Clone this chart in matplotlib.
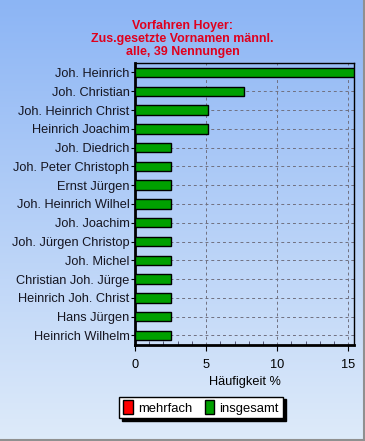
import numpy as np
import matplotlib
matplotlib.use('Agg')
import matplotlib.pyplot as plt
from matplotlib.patches import Patch

plt.rcParams['font.family'] = ['Liberation Sans', 'DejaVu Sans']

# data
names = ['Joh. Heinrich', 'Joh. Christian', 'Joh. Heinrich Christ', 'Heinrich Joachim',
         'Joh. Diedrich', 'Joh. Peter Christoph', 'Ernst Jürgen', 'Joh. Heinrich Wilhel',
         'Joh. Joachim', 'Joh. Jürgen Christop', 'Joh. Michel', 'Christian Joh. Jürge',
         'Heinrich Joh. Christ', 'Hans Jürgen', 'Heinrich Wilhelm']
insgesamt = [15.38, 7.69, 5.13, 5.13, 2.56, 2.56, 2.56, 2.56,
             2.56, 2.56, 2.56, 2.56, 2.56, 2.56, 2.56]
xticks = [0, 5, 10, 15]
title = 'Vorfahren Hoyer:\nZus.gesetzte Vornamen männl.\nalle, 39 Nennungen'

fig = plt.figure(figsize=(3.65, 4.41), dpi=100)

# gradient background
bg = fig.add_axes([0, 0, 1, 1], zorder=-10)
grad = np.linspace(0, 1, 256)[:, None]
top = np.array([0.55, 0.71, 0.96])
bot = np.array([0.87, 0.92, 0.98])
img = top + (bot - top) * grad[:, :, None]
bg.imshow(img, aspect='auto', extent=[0, 1, 0, 1])
bg.set_xlim(0, 1)
bg.set_ylim(0, 1)
bg.axis('off')
# frame at right/bottom
bg.plot([0.997, 0.997], [0, 1], color='#909090', lw=1.5)
bg.plot([0, 1], [0.003, 0.003], color='#909090', lw=1.5)

ax = fig.add_axes([0.370, 0.218, 0.600, 0.639])
ax.patch.set_alpha(0)
y = np.arange(len(names))
ax.barh(y, insgesamt, height=0.5, color='#00a000', edgecolor='black', linewidth=1, zorder=3)
ax.set_ylim(len(names) - 0.5, -0.5)
ax.set_xlim(0, 15.4)
ax.set_yticks(y)
ax.set_yticklabels(names, fontsize=9.2, color='#151520')
ax.set_xticks(xticks)
ax.set_xticklabels([str(t) for t in xticks], fontsize=9.2)
ax.set_xticks(np.arange(0, 16, 1), minor=True)
ax.tick_params(axis='x', which='minor', direction='in', length=3, width=0.6, color='#404060')
ax.tick_params(axis='x', which='major', length=4, width=0.8, pad=6)
ax.tick_params(axis='y', length=3, width=0.8, pad=1)
ax.grid(True, axis='both', linestyle=(0, (3, 3)), color='#707080', linewidth=0.7, zorder=0)
ax.set_axisbelow(True)
ax.spines['left'].set_linewidth(2)
ax.spines['bottom'].set_linewidth(2)
ax.spines['top'].set_linewidth(1)
ax.spines['right'].set_linewidth(1)
ax.set_xlabel('Häufigkeit %', fontsize=9.2, labelpad=4)

fig.text(0.5, 0.912, title, ha='center', va='center', color='#e0001c',
         fontsize=8.9, fontweight='bold', linespacing=1.1)

handles = [Patch(facecolor='#ff0000', edgecolor='black', label='mehrfach'),
           Patch(facecolor='#00a000', edgecolor='black', label='insgesamt')]
fig.legend(handles=handles, ncol=2, loc='center', bbox_to_anchor=(0.551, 0.076),
           fontsize=9.4, frameon=True, fancybox=False, edgecolor='black',
           framealpha=1, handlelength=0.7, handleheight=1.2, handletextpad=0.4,
           columnspacing=1.0, borderpad=0.3, borderaxespad=0,
           shadow={'color': 'black', 'alpha': 1})

plt.savefig('out.png', dpi=100)
